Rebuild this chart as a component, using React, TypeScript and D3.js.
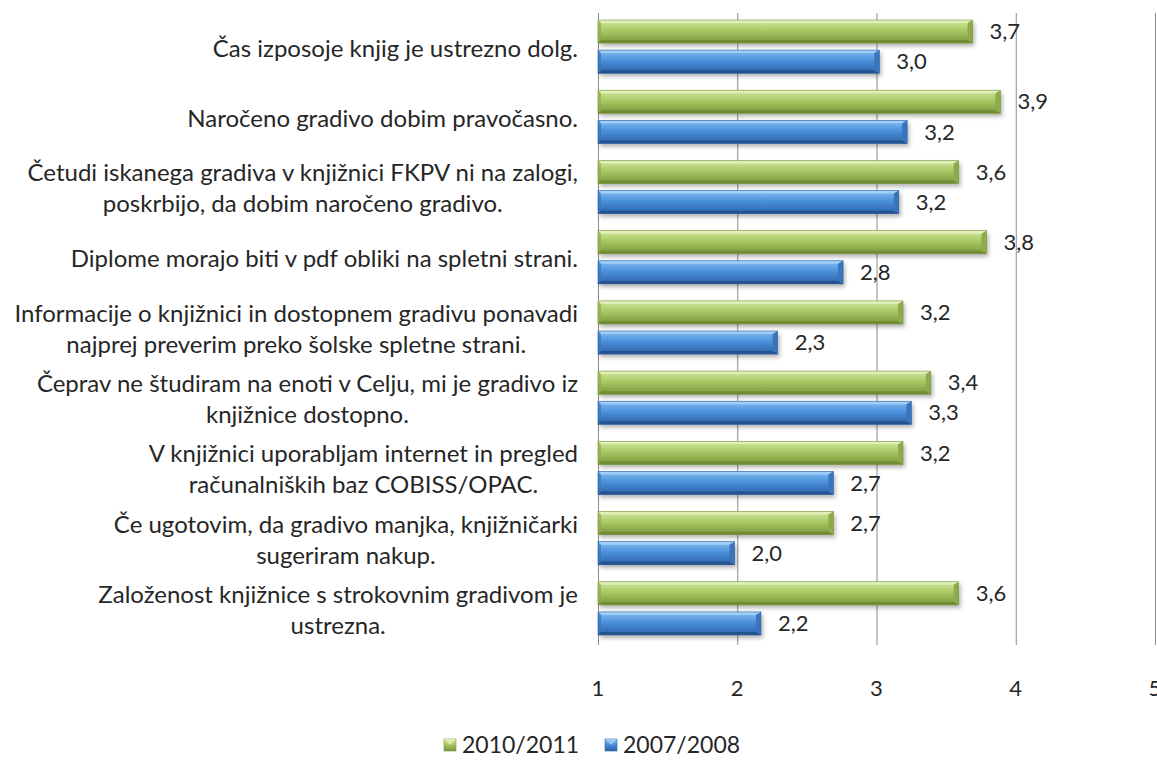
import React, { useEffect, useRef } from 'react';
import * as d3 from 'd3';

// kategorije (vrstice z zgoraj navzdol), vsaka je lahko v več vrsticah
const categories: string[][] = [
  ['Čas izposoje knjig je ustrezno dolg.'],
  ['Naročeno gradivo dobim pravočasno.'],
  ['Četudi iskanega gradiva v knjižnici FKPV ni na zalogi,', 'poskrbijo, da dobim naročeno gradivo.'],
  ['Diplome morajo biti v pdf obliki na spletni strani.'],
  ['Informacije o knjižnici in dostopnem gradivu ponavadi', 'najprej preverim preko šolske spletne strani.'],
  ['Čeprav ne študiram na enoti v Celju, mi je gradivo iz', 'knjižnice dostopno.'],
  ['V knjižnici uporabljam internet in pregled', 'računalniških baz COBISS/OPAC.'],
  ['Če ugotovim, da gradivo manjka, knjižničarki', 'sugeriram nakup.'],
  ['Založenost knjižnice s strokovnim gradivom je', 'ustrezna.'],
];

const seriesNames = ['2010/2011', '2007/2008'];
const values2010 = [3.69, 3.89, 3.59, 3.79, 3.19, 3.39, 3.19, 2.69, 3.59];
const values2007 = [3.02, 3.22, 3.16, 2.76, 2.29, 3.25, 2.69, 1.98, 2.17];
const xTicks = [1, 2, 3, 4, 5];

const FONT = 'Lato, Carlito, Calibri, sans-serif';

const palette = {
  '2010/2011': { light: '#d4e8a0', mid: '#a8c964', dark: '#7a963a', top: '#e2f0bd', bottom: '#6f8a33', end: '#8eab4b' },
  '2007/2008': { light: '#86c0f2', mid: '#4b90dc', dark: '#2c62a6', top: '#a3d0f7', bottom: '#24518c', end: '#3a74bb' },
};

const fmt = (v: number) => d3.format('.1f')(v).replace('.', ',');

export default function App() {
  const ref = useRef<SVGSVGElement | null>(null);

  useEffect(() => {
    if (!ref.current) return;
    const svg = d3.select(ref.current);
    svg.selectAll('*').remove();

    const defs = svg.append('defs');
    seriesNames.forEach((s, i) => {
      const c = palette[s];
      const g = defs.append('linearGradient').attr('id', `grad${i}`).attr('x1', 0).attr('y1', 0).attr('x2', 0).attr('y2', 1);
      g.append('stop').attr('offset', '0%').attr('stop-color', c.light);
      g.append('stop').attr('offset', '45%').attr('stop-color', c.mid);
      g.append('stop').attr('offset', '100%').attr('stop-color', c.dark);
    });
    const f = defs.append('filter').attr('id', 'shadow').attr('x', '-5%').attr('y', '-30%').attr('width', '115%').attr('height', '170%');
    f.append('feDropShadow').attr('dx', 2).attr('dy', 3).attr('stdDeviation', 2).attr('flood-color', '#000').attr('flood-opacity', 0.3);

    const x = d3.scaleLinear().domain([1, 5]).range([598, 1155]);
    const y = d3.scaleBand<number>().domain(d3.range(categories.length)).range([13, 645]).paddingInner(0).paddingOuter(0);
    const ySub = d3.scaleBand<string>().domain(seriesNames).range([7, y.bandwidth() - 10]).paddingInner(0.233).paddingOuter(0);

    // mreža
    svg.append('g')
      .selectAll('line')
      .data(xTicks)
      .join('line')
      .attr('x1', d => x(d) + 0.5)
      .attr('x2', d => x(d) + 0.5)
      .attr('y1', 13)
      .attr('y2', 645)
      .attr('stroke', '#8c8c8c')
      .attr('stroke-width', 1);

    // oznake osi x
    svg.append('g')
      .selectAll('text')
      .data(xTicks)
      .join('text')
      .attr('x', d => x(d))
      .attr('y', 696)
      .attr('text-anchor', 'middle')
      .style('font-family', FONT)
      .style('font-size', '22px')
      .style('fill', '#262626')
      .text(d => d);

    // stolpci
    const rows = categories.map((c, i) => ({ i, vals: [values2010[i], values2007[i]] }));
    const bevel = 3;
    rows.forEach(r => {
      r.vals.forEach((v, si) => {
        const s = seriesNames[si];
        const c = palette[s];
        const x0 = x(1);
        const x1 = x(v);
        const y0 = y(r.i)! + ySub(s)!;
        const h = ySub.bandwidth();
        const y1 = y0 + h;
        const g = svg.append('g');
        g.append('rect')
          .attr('x', x0).attr('y', y0).attr('width', x1 - x0).attr('height', h)
          .attr('fill', `url(#grad${si})`)
          .attr('filter', 'url(#shadow)');
        // zgornji rob
        g.append('polygon')
          .attr('points', [[x0, y0], [x1, y0], [x1 - bevel, y0 + bevel], [x0 + bevel, y0 + bevel]].map(p => p.join(',')).join(' '))
          .attr('fill', c.top).attr('opacity', 0.9);
        // spodnji rob
        g.append('polygon')
          .attr('points', [[x0, y1], [x1, y1], [x1 - bevel, y1 - bevel], [x0 + bevel, y1 - bevel]].map(p => p.join(',')).join(' '))
          .attr('fill', c.bottom).attr('opacity', 0.9);
        // desni konec
        g.append('polygon')
          .attr('points', [[x1, y0], [x1, y1], [x1 - bevel - 2, y1 - bevel], [x1 - bevel - 2, y0 + bevel]].map(p => p.join(',')).join(' '))
          .attr('fill', c.end);
        // levi konec
        g.append('polygon')
          .attr('points', [[x0, y0], [x0, y1], [x0 + bevel, y1 - bevel], [x0 + bevel, y0 + bevel]].map(p => p.join(',')).join(' '))
          .attr('fill', c.end).attr('opacity', 0.7);
        g.append('rect')
          .attr('x', x0).attr('y', y0).attr('width', x1 - x0).attr('height', h)
          .attr('fill', 'none').attr('stroke', c.dark).attr('stroke-width', 0.6);

        svg.append('text')
          .attr('x', x1 + 17)
          .attr('y', y0 + h / 2)
          .attr('dy', '0.35em')
          .style('font-family', FONT)
          .style('font-size', '22px')
          .style('fill', '#262626')
          .text(fmt(v));
      });
    });

    // oznake kategorij: vrstice centrirane, blok poravnan desno
    const right = 578;
    const lineH = 31;
    categories.forEach((lines, i) => {
      const cy = y(i)! + y.bandwidth() / 2;
      const t = svg.append('text')
        .style('font-family', FONT)
        .style('font-size', '24px')
        .style('fill', '#262626')
        .attr('text-anchor', 'middle');
      const spans = lines.map((ln, li) =>
        t.append('tspan')
          .attr('y', cy + (li - (lines.length - 1) / 2) * lineH)
          .attr('dy', '0.35em')
          .text(ln)
      );
      const w = d3.max(spans, sp => (sp.node() as SVGTextContentElement).getComputedTextLength()) || 0;
      spans.forEach(sp => sp.attr('x', right - w / 2));
    });

    // legenda
    const legendItems = [
      { name: seriesNames[0], mx: 444, tx: 462, si: 0 },
      { name: seriesNames[1], mx: 605, tx: 623, si: 1 },
    ];
    const ly = 745;
    const lg = svg.append('g');
    legendItems.forEach(it => {
      const c = palette[it.name];
      lg.append('rect').attr('x', it.mx).attr('y', ly - 6).attr('width', 12).attr('height', 12)
        .attr('fill', `url(#grad${it.si})`).attr('stroke', c.dark).attr('stroke-width', 0.6);
      lg.append('polygon')
        .attr('points', `${it.mx},${ly - 6} ${it.mx + 12},${ly - 6} ${it.mx + 6},${ly}`)
        .attr('fill', c.top).attr('opacity', 0.8);
      lg.append('text').attr('x', it.tx).attr('y', ly).attr('dy', '0.35em')
        .style('font-family', FONT).style('font-size', '23px').style('fill', '#262626')
        .text(it.name);
    });
  }, []);

  return (
    <svg
      ref={ref}
      width={1157}
      height={760}
      style={{ position: 'absolute', left: 0, top: 0, background: '#fff', display: 'block' }}
    />
  );
}
